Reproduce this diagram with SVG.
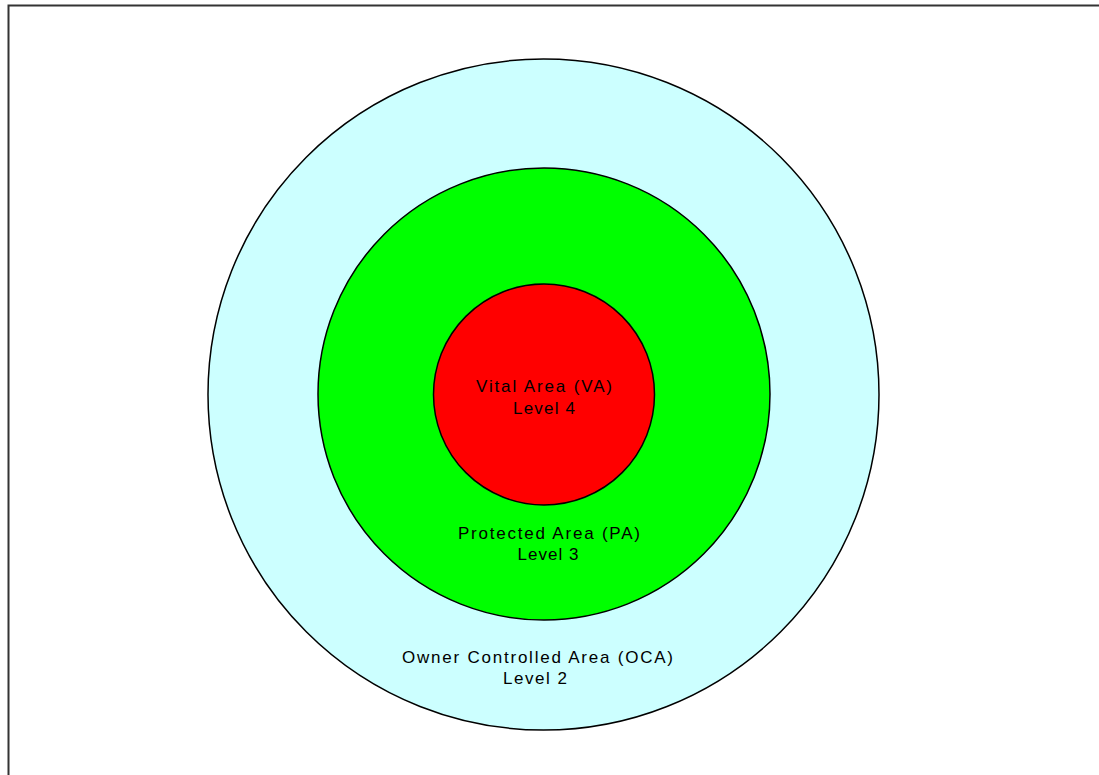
<svg xmlns="http://www.w3.org/2000/svg" width="1099" height="775" viewBox="0 0 1099 775">
<style>
.ring{stroke:#000;stroke-width:1.5}
.lbl{font-family:"Liberation Sans",Arial,sans-serif;font-size:17px;fill:#000;text-anchor:middle}
</style>
<rect x="0" y="0" width="1099" height="775" fill="#fff"/>
<rect x="8.5" y="5.5" width="1100" height="780" fill="none" stroke="#333" stroke-width="2"/>
<g id="oca"><circle class="ring" cx="543.5" cy="394.5" r="335.5" fill="#CCFFFF"/></g>
<g id="pa"><circle class="ring" cx="544" cy="394" r="226" fill="#00FF00"/></g>
<g id="va"><circle class="ring" cx="544" cy="394.5" r="110.5" fill="#FF0000"/></g>
<g id="labels">
<text class="lbl" x="544" y="392" textLength="136">Vital Area (VA)</text>
<text class="lbl" x="544" y="414" textLength="62">Level 4</text>
<text class="lbl" x="549" y="539" textLength="182">Protected Area (PA)</text>
<text class="lbl" x="548" y="560" textLength="61">Level 3</text>
<text class="lbl" x="537.5" y="663" textLength="271">Owner Controlled Area (OCA)</text>
<text class="lbl" x="535" y="684" textLength="64">Level 2</text>
</g>
</svg>
